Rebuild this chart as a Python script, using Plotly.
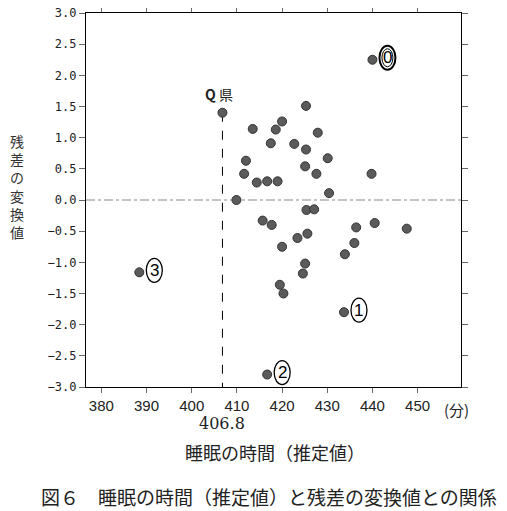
"""Scatter of estimated sleep time against transformed residuals (Fig. 6)."""

import plotly.graph_objects as go

# estimated sleep time (minutes) and transformed residual for each prefecture
sleep_minutes = [
    440.0, 425.3, 420.0, 413.5, 418.6, 427.9, 417.5, 422.7, 425.3, 412.0,
    430.1, 425.1, 411.6, 427.6, 439.8, 414.4, 416.7, 419.0, 430.4, 409.9,
    425.4, 427.1, 415.7, 417.7, 436.4, 440.5, 447.6, 423.4, 425.6, 420.0,
    436.0, 433.9, 425.1, 424.6, 420.3, 419.5, 433.7, 416.7, 388.4,
]
residual = [
    2.25, 1.51, 1.26, 1.14, 1.13, 1.08, 0.91, 0.90, 0.81, 0.63,
    0.67, 0.54, 0.42, 0.42, 0.42, 0.28, 0.30, 0.30, 0.11, 0.00,
    -0.16, -0.15, -0.33, -0.40, -0.44, -0.37, -0.46, -0.61, -0.54, -0.75,
    -0.69, -0.87, -1.02, -1.18, -1.50, -1.36, -1.80, -2.80, -1.16,
]

# prefecture Q, highlighted with a drop line
q_sleep = 406.8
q_residual = 1.40
q_label = "<b>Q</b> 県"

# circled outliers: digit, sleep, residual
outlier_digits = ["0", "1", "2", "3"]
outlier_sleep = [440.0, 433.7, 416.7, 388.4]
outlier_residual = [2.25, -1.80, -2.80, -1.16]

x_ticks = [380, 390, 400, 410, 420, 430, 440, 450]
y_ticks = [3.0, 2.5, 2.0, 1.5, 1.0, 0.5, 0.0, -0.5, -1.0, -1.5, -2.0, -2.5, -3.0]
y_ticktext = ["3.0" if v == 3 else f"{v:.1f}".replace("-", "−") for v in y_ticks]

x_title = "睡眠の時間（推定値）"
y_title = "残差の変換値"
unit_label = "(分)"
caption = "図６　睡眠の時間（推定値）と残差の変換値との関係"

CJK = "Noto Sans CJK JP"
MARKER = dict(size=9, color="#5b5b5b", line=dict(color="#333333", width=1))

fig = go.Figure()

# dashed drop line from Q down to the x axis
fig.add_trace(go.Scatter(
    x=[q_sleep, q_sleep], y=[q_residual, -3.0],
    mode="lines", line=dict(color="black", width=1, dash="dash"),
    hoverinfo="skip", showlegend=False,
))

fig.add_trace(go.Scatter(
    x=sleep_minutes + [q_sleep], y=residual + [q_residual],
    mode="markers", marker=MARKER, showlegend=False,
))

shapes = [
    dict(type="line", xref="paper", x0=0, x1=1, yref="y", y0=0, y1=0,
         line=dict(color="#888888", width=1, dash="dashdot"), layer="below"),
]
annotations = []

dx, dy = 15, 2  # offset of the circled label from its point, px
for digit, sx, ry in zip(outlier_digits, outlier_sleep, outlier_residual):
    shapes.append(dict(
        type="circle", xref="x", yref="y", xsizemode="pixel", ysizemode="pixel",
        xanchor=sx, yanchor=ry, x0=dx - 8, x1=dx + 8, y0=dy - 12, y1=dy + 12,
        line=dict(color="black", width=2 if digit == "0" else 1.3),
        fillcolor="white",
    ))
    if digit == "0":
        shapes.append(dict(
            type="circle", xref="x", yref="y", xsizemode="pixel", ysizemode="pixel",
            xanchor=sx, yanchor=ry, x0=dx - 5.5, x1=dx + 5.5, y0=dy - 9, y1=dy + 9,
            line=dict(color="black", width=1),
        ))
    annotations.append(dict(
        x=sx, y=ry, xref="x", yref="y", text=digit, showarrow=False,
        xshift=dx, yshift=dy,
        font=dict(family="Liberation Sans Narrow, Liberation Sans", size=17, color="black"),
    ))

annotations += [
    dict(x=q_sleep, y=q_residual, xref="x", yref="y", text=q_label, showarrow=False,
         xshift=-3, yshift=19, font=dict(family=CJK, size=14, color="#222222")),
    dict(x=q_sleep, y=-0.097, xref="x", yref="paper", text=f"{q_sleep}",
         showarrow=False, xanchor="center", yanchor="middle",
         font=dict(family="DejaVu Serif", size=16, color="#222222")),
    dict(x=0.987, y=-0.059, xref="paper", yref="paper", text=unit_label, showarrow=False,
         xanchor="center", yanchor="middle",
         font=dict(family=CJK, size=15, color="#222222")),
    dict(x=0.505, y=-0.174, xref="paper", yref="paper", text=x_title, showarrow=False,
         xanchor="center", yanchor="middle",
         font=dict(family=CJK, size=18, color="#222222")),
    dict(x=0.488, y=-0.294, xref="paper", yref="paper", text=caption, showarrow=False,
         xanchor="center", yanchor="middle",
         font=dict(family=CJK, size=19, color="#222222")),
    # vertical y title, one character per line
    dict(x=-0.183, y=0.537, xref="paper", yref="paper", text="<br>".join(y_title),
         showarrow=False, xanchor="center", yanchor="middle",
         font=dict(family=CJK, size=14, color="#333333")),
]

# the page body adds an 8 px offset, so the figure is drawn 8 px smaller
fig.update_layout(
    width=499, height=503, autosize=False,
    margin=dict(l=78, r=46, t=5, b=124),
    plot_bgcolor="white", paper_bgcolor="white",
    shapes=shapes, annotations=annotations,
    xaxis=dict(
        range=[376.6, 459.6], tickvals=x_ticks, ticks="outside", ticklen=5,
        tickcolor="#666666", showline=True, linecolor="black", linewidth=1.2,
        mirror="ticks", showgrid=False, zeroline=False, automargin=False,
        tickfont=dict(family="Liberation Sans Narrow, Liberation Sans", size=15, color="#222222"),
    ),
    yaxis=dict(
        range=[-3, 3], tickvals=y_ticks, ticktext=y_ticktext, ticks="outside", ticklen=6,
        tickcolor="#666666", showline=True, linecolor="black", linewidth=1.2,
        mirror="ticks", showgrid=False, zeroline=False, automargin=False,
        ticklabeloverflow="allow",
        tickfont=dict(family="DejaVu Sans Mono", size=12, color="#222222"),
    ),
)

fig.write_html("out.html")
